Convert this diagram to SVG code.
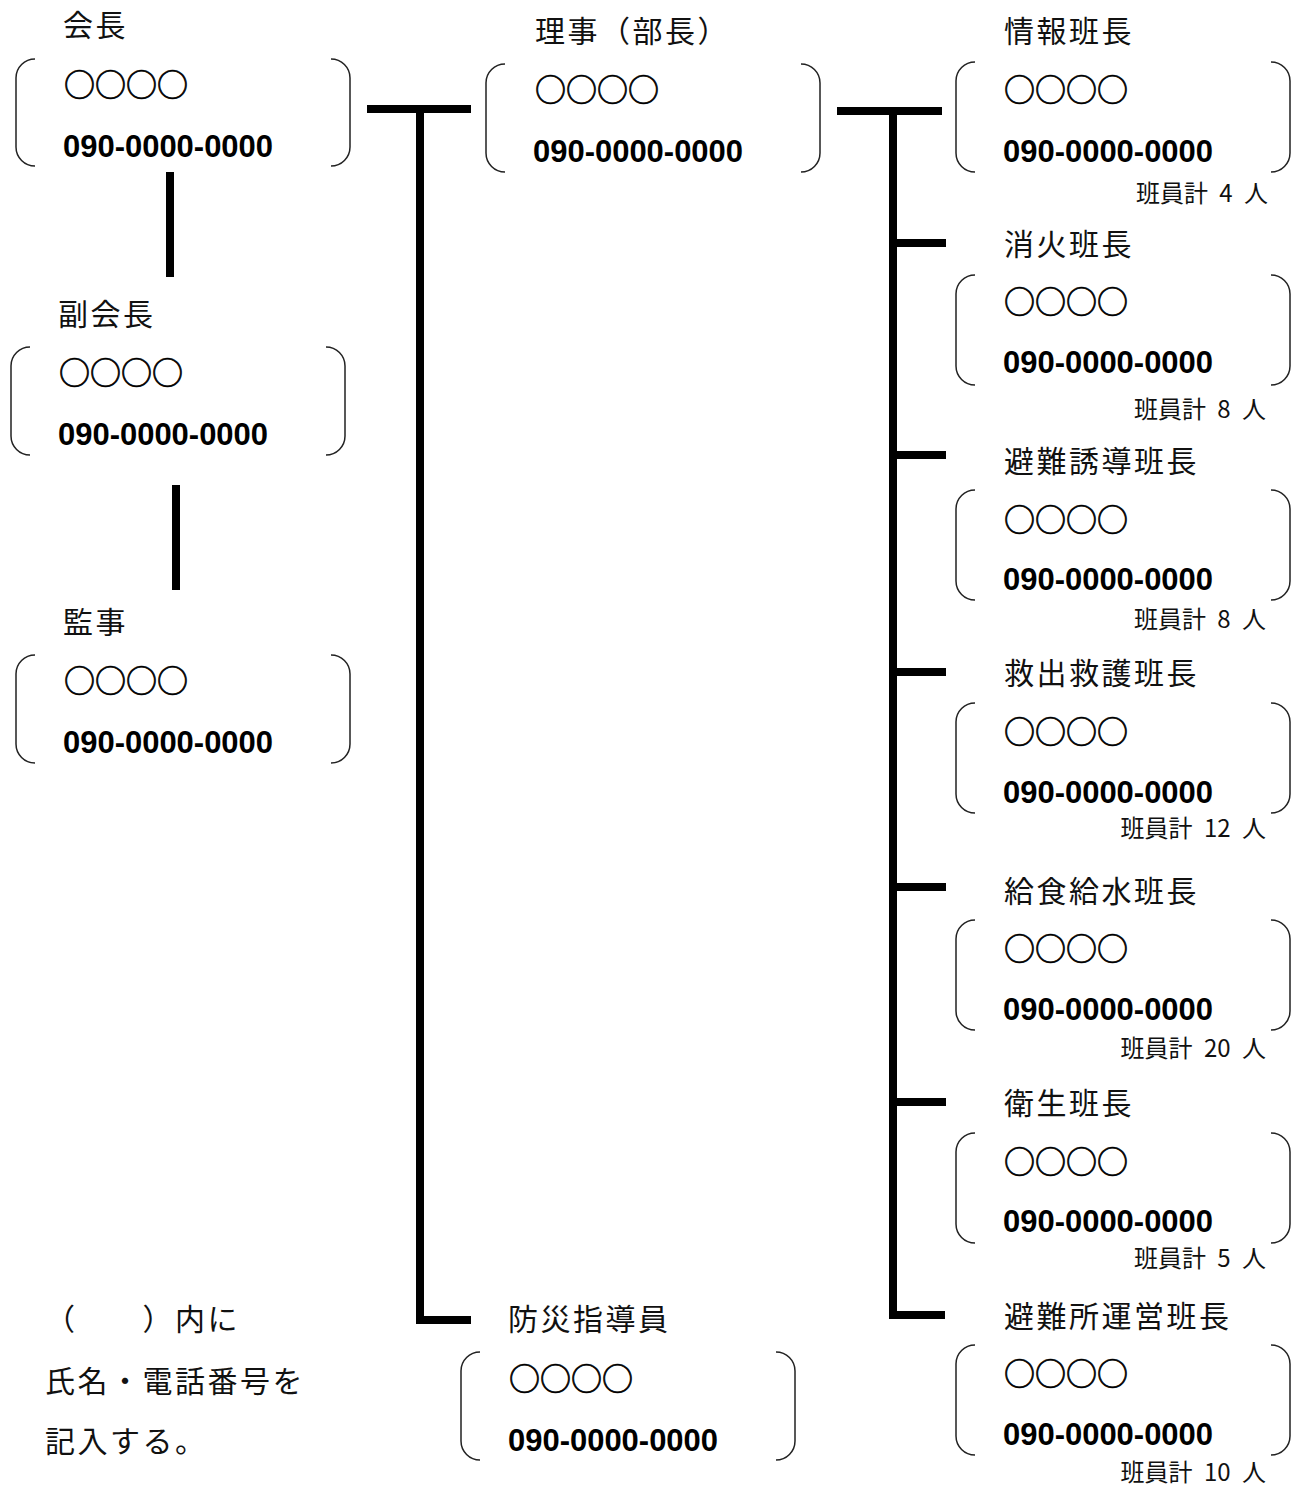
<svg xmlns="http://www.w3.org/2000/svg" width="1302" height="1494" viewBox="0 0 1302 1494">
<style>
.lbl{font-family:"Noto Sans CJK JP","Noto Sans",sans-serif;font-size:30px;letter-spacing:2.5px;fill:#111}
.nm{font-family:"Noto Sans CJK JP","DejaVu Sans",sans-serif;font-size:31px;fill:#000;stroke:#000;stroke-width:0.7}
.ph{font-family:"Liberation Sans","DejaVu Sans",sans-serif;font-size:31px;font-weight:bold;fill:#000}
.cnt{font-family:"Noto Sans CJK JP","Liberation Serif",serif;font-size:24px;word-spacing:6px;fill:#111;text-anchor:end}
.br{fill:none;stroke:#222;stroke-width:1.5}
.cn{fill:none;stroke:#000;stroke-width:8;stroke-linecap:butt;stroke-linejoin:miter}
</style>
<rect width="1302" height="1494" fill="#fff"/>
<g id="connectors">
<path class="cn" d="M170 172V277"/>
<path class="cn" d="M176 485V590"/>
<path class="cn" d="M367 109H471"/>
<path class="cn" d="M420 109V1320H471"/>
<path class="cn" d="M837 111H942"/>
<path class="cn" d="M893 111V1315H945"/>
<path class="cn" d="M893 243H946M893 455H946M893 672H946M893 887H946M893 1102H946"/>
</g>
<g id="n-kaicho">
<text class="lbl" x="63" y="36">会長</text>
<path class="br" d="M35 59A19 19 0 0 0 16 78V147A19 19 0 0 0 35 166M331 59A19 19 0 0 1 350 78V147A19 19 0 0 1 331 166"/>
<text class="nm" x="64" y="96">○○○○</text>
<text class="ph" x="63" y="157" textLength="210" lengthAdjust="spacingAndGlyphs">090-0000-0000</text>
</g>
<g id="n-fukukaicho">
<text class="lbl" x="58" y="325">副会長</text>
<path class="br" d="M30 347A19 19 0 0 0 11 366V436A19 19 0 0 0 30 455M326 347A19 19 0 0 1 345 366V436A19 19 0 0 1 326 455"/>
<text class="nm" x="59" y="384">○○○○</text>
<text class="ph" x="58" y="445" textLength="210" lengthAdjust="spacingAndGlyphs">090-0000-0000</text>
</g>
<g id="n-kanji">
<text class="lbl" x="63" y="633">監事</text>
<path class="br" d="M35 655A19 19 0 0 0 16 674V744A19 19 0 0 0 35 763M331 655A19 19 0 0 1 350 674V744A19 19 0 0 1 331 763"/>
<text class="nm" x="64" y="692">○○○○</text>
<text class="ph" x="63" y="753" textLength="210" lengthAdjust="spacingAndGlyphs">090-0000-0000</text>
</g>
<g id="n-riji">
<text class="lbl" x="535" y="42">理事（部長）</text>
<path class="br" d="M505 64A19 19 0 0 0 486 83V153A19 19 0 0 0 505 172M801 64A19 19 0 0 1 820 83V153A19 19 0 0 1 801 172"/>
<text class="nm" x="535" y="101">○○○○</text>
<text class="ph" x="533" y="162" textLength="210" lengthAdjust="spacingAndGlyphs">090-0000-0000</text>
</g>
<g id="n-bousai">
<text class="lbl" x="508" y="1330">防災指導員</text>
<path class="br" d="M480 1352A19 19 0 0 0 461 1371V1441A19 19 0 0 0 480 1460M776 1352A19 19 0 0 1 795 1371V1441A19 19 0 0 1 776 1460"/>
<text class="nm" x="509" y="1390">○○○○</text>
<text class="ph" x="508" y="1451" textLength="210" lengthAdjust="spacingAndGlyphs">090-0000-0000</text>
</g>
<g id="n-joho">
<text class="lbl" x="1004" y="42">情報班長</text>
<path class="br" d="M975 62A19 19 0 0 0 956 81V153A19 19 0 0 0 975 172M1271 62A19 19 0 0 1 1290 81V153A19 19 0 0 1 1271 172"/>
<text class="nm" x="1004" y="101">○○○○</text>
<text class="ph" x="1003" y="162" textLength="210" lengthAdjust="spacingAndGlyphs">090-0000-0000</text>
<text class="cnt" x="1268" y="202">班員計 4 人</text>
</g>
<g id="n-shoka">
<text class="lbl" x="1004" y="255">消火班長</text>
<path class="br" d="M975 275A19 19 0 0 0 956 294V366A19 19 0 0 0 975 385M1271 275A19 19 0 0 1 1290 294V366A19 19 0 0 1 1271 385"/>
<text class="nm" x="1004" y="313">○○○○</text>
<text class="ph" x="1003" y="373" textLength="210" lengthAdjust="spacingAndGlyphs">090-0000-0000</text>
<text class="cnt" x="1266" y="418">班員計 8 人</text>
</g>
<g id="n-hinan">
<text class="lbl" x="1004" y="472">避難誘導班長</text>
<path class="br" d="M975 490A19 19 0 0 0 956 509V581A19 19 0 0 0 975 600M1271 490A19 19 0 0 1 1290 509V581A19 19 0 0 1 1271 600"/>
<text class="nm" x="1004" y="531">○○○○</text>
<text class="ph" x="1003" y="590" textLength="210" lengthAdjust="spacingAndGlyphs">090-0000-0000</text>
<text class="cnt" x="1266" y="628">班員計 8 人</text>
</g>
<g id="n-kyushutsu">
<text class="lbl" x="1004" y="684">救出救護班長</text>
<path class="br" d="M975 703A19 19 0 0 0 956 722V794A19 19 0 0 0 975 813M1271 703A19 19 0 0 1 1290 722V794A19 19 0 0 1 1271 813"/>
<text class="nm" x="1004" y="743">○○○○</text>
<text class="ph" x="1003" y="803" textLength="210" lengthAdjust="spacingAndGlyphs">090-0000-0000</text>
<text class="cnt" x="1266" y="837">班員計 12 人</text>
</g>
<g id="n-kyushoku">
<text class="lbl" x="1004" y="902">給食給水班長</text>
<path class="br" d="M975 920A19 19 0 0 0 956 939V1011A19 19 0 0 0 975 1030M1271 920A19 19 0 0 1 1290 939V1011A19 19 0 0 1 1271 1030"/>
<text class="nm" x="1004" y="960">○○○○</text>
<text class="ph" x="1003" y="1020" textLength="210" lengthAdjust="spacingAndGlyphs">090-0000-0000</text>
<text class="cnt" x="1266" y="1057">班員計 20 人</text>
</g>
<g id="n-eisei">
<text class="lbl" x="1004" y="1114">衛生班長</text>
<path class="br" d="M975 1133A19 19 0 0 0 956 1152V1224A19 19 0 0 0 975 1243M1271 1133A19 19 0 0 1 1290 1152V1224A19 19 0 0 1 1271 1243"/>
<text class="nm" x="1004" y="1173">○○○○</text>
<text class="ph" x="1003" y="1232" textLength="210" lengthAdjust="spacingAndGlyphs">090-0000-0000</text>
<text class="cnt" x="1266" y="1267">班員計 5 人</text>
</g>
<g id="n-hinanjo">
<text class="lbl" x="1004" y="1327">避難所運営班長</text>
<path class="br" d="M975 1345A19 19 0 0 0 956 1364V1436A19 19 0 0 0 975 1455M1271 1345A19 19 0 0 1 1290 1364V1436A19 19 0 0 1 1271 1455"/>
<text class="nm" x="1004" y="1385">○○○○</text>
<text class="ph" x="1003" y="1445" textLength="210" lengthAdjust="spacingAndGlyphs">090-0000-0000</text>
<text class="cnt" x="1266" y="1481">班員計 10 人</text>
</g>
<g id="note">
<text class="lbl" x="45" y="1330">（　　）内に</text>
<text class="lbl" x="45" y="1392">氏名・電話番号を</text>
<text class="lbl" x="45" y="1452">記入する。</text>
</g>
</svg>
